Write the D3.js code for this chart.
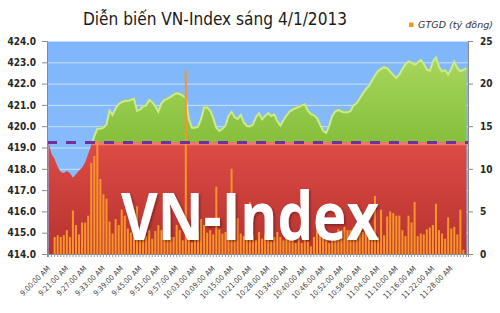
<!DOCTYPE html>
<html><head><meta charset="utf-8">
<script src="https://cdn.jsdelivr.net/npm/d3@7"></script>
<style>body{margin:0;background:#fff}svg{display:block}</style>
</head><body>
<svg id="c" width="500" height="313"></svg>
<script>
// ---- data ----
const times = ("9:00 9:16 9:17 9:18 9:19 9:20 9:21 9:22 9:23 9:24 9:25 9:26 9:27 9:28 9:29 9:30 9:31 9:32 9:33 9:34 9:35 9:36 9:37 9:38 9:39 9:40 9:41 9:42 9:43 9:44 9:45 9:46 9:47 9:48 9:49 9:50 9:51 9:52 9:53 9:54 9:55 9:56 9:57 9:58 9:59 " +
 "10:00 10:01 10:02 10:03 10:04 10:05 10:06 10:07 10:08 10:09 10:10 10:11 10:12 10:13 10:14 10:15 10:16 10:17 10:18 10:19 10:20 10:21 " +
 "10:23 10:24 10:25 10:26 10:27 10:28 10:29 10:30 10:31 10:32 10:33 10:34 10:35 10:36 10:37 10:38 10:39 10:40 10:41 10:42 10:43 10:44 10:45 10:46 10:47 10:48 10:49 10:50 10:51 10:52 10:53 10:54 10:55 10:56 10:57 10:58 10:59 " +
 "11:00 11:01 11:02 11:03 11:04 11:05 11:06 11:07 11:08 11:09 11:10 11:11 11:12 11:13 11:14 11:15 11:16 11:17 11:18 11:19 11:20 11:21 11:22 11:23 11:24 11:25 11:26 11:27 11:28 11:29 11:30 11:31 11:32 11:33").split(" ");

const vnIndex = [
 419.24,418.7,418.45,418.1,417.85,417.8,417.9,417.8,417.58,417.75,
 417.92,418.05,418.3,418.7,419.1,419.6,419.95,419.95,420.0,420.15,
 420.8,420.6,420.9,421.1,421.2,421.25,421.26,421.3,421.36,420.8,
 420.85,421.0,421.05,421.3,421.2,421.0,420.75,421.15,421.3,421.36,
 421.45,421.55,421.62,421.58,421.5,421.4,420.4,420.0,420.0,420.05,
 420.4,420.95,420.95,420.8,420.45,420.0,419.85,419.95,420.1,420.55,
 420.75,420.5,420.4,420.6,420.25,420.08,420.06,420.15,420.5,420.68,
 420.4,420.55,420.68,420.55,420.62,420.3,420.1,420.35,420.57,420.75,
 420.85,420.92,420.97,421.05,421.1,420.8,420.65,420.58,420.45,420.15,
 419.85,419.75,420.1,420.55,420.76,420.84,420.76,420.72,420.72,420.78,
 421.05,421.15,421.37,421.6,421.8,421.96,422.2,422.45,422.65,422.76,
 422.83,422.8,422.63,422.48,422.33,422.5,422.75,422.98,423.1,423.05,
 422.95,423.05,423.18,423.0,422.72,422.67,423.1,423.3,422.85,422.64,
 422.7,422.5,422.75,423.1,422.8,422.65,422.72,422.78];

const volume = [
 0,0,2.0,2.2,2.0,2.2,2.8,2.0,5.1,3.4,
 2.3,3.7,3.7,4.5,10.7,11.5,13.4,8.8,7.0,6.5,
 3.8,2.4,4.1,3.4,5.2,4.5,3.0,2.5,3.6,5.6,
 3.1,2.4,2.1,2.8,1.8,2.7,3.4,2.8,1.8,2.1,
 2.0,2.0,3.4,2.8,1.6,21.5,2.0,1.4,2.1,2.8,
 4.1,3.4,2.5,2.8,2.3,7.9,2.9,2.4,2.6,2.3,
 10.0,1.6,4.2,2.4,2.1,2.4,6.1,2.2,1.6,2.6,
 1.8,2.3,3.0,1.5,2.0,2.6,2.0,1.6,2.6,2.0,
 2.0,1.3,2.1,1.3,1.9,1.5,0.9,2.0,2.8,2.4,
 2.3,1.6,1.3,2.0,2.0,2.9,2.0,3.2,2.8,2.8,
 3.1,2.5,3.0,2.6,2.8,2.2,2.6,6.8,2.0,5.2,
 2.2,4.4,5.0,4.8,4.5,4.5,2.8,2.1,4.5,3.7,
 6.1,2.1,2.4,2.3,2.9,3.1,3.4,5.9,2.8,2.4,
 1.8,4.3,3.0,3.2,2.3,5.2,0.5,0];

const refLevel = 419.24;
const leftTicks = [414,415,416,417,418,419,420,421,422,423,424];
const rightTicks = [0,5,10,15,20,25];
const titleText = "Diễn biến VN-Index sáng 4/1/2013";
const legendText = "GTGD (tỷ đồng)";
const watermark = "VN-Index";

// ---- layout ----
const L = 47, R = 468, T = 41, B = 254;
const svg = d3.select("#c");
const idx = d3.range(times.length);
const x = d3.scaleBand().domain(idx).range([L, R]).padding(0);
const cx = i => x(i) + x.bandwidth() / 2;
const yL = d3.scaleLinear().domain([414, 424]).range([B, T]);
const yR = d3.scaleLinear().domain([0, 25]).range([B, T]);
const yRef = yL(refLevel);

const defs = svg.append("defs");
const gGreen = defs.append("linearGradient").attr("id","gGreen").attr("x1",0).attr("y1",0).attr("x2",0).attr("y2",1);
gGreen.append("stop").attr("offset","0").attr("stop-color","#aedb62");
gGreen.append("stop").attr("offset","1").attr("stop-color","#86bf3c");
const gRed = defs.append("linearGradient").attr("id","gRed").attr("x1",0).attr("y1",0).attr("x2",0).attr("y2",1);
gRed.append("stop").attr("offset","0").attr("stop-color","#de4b46");
gRed.append("stop").attr("offset","1").attr("stop-color","#b5322e");
const gBlue = defs.append("linearGradient").attr("id","gBlue").attr("x1",0).attr("y1",0).attr("x2",0).attr("y2",1);
gBlue.append("stop").attr("offset","0").attr("stop-color","#7fb6fb");
gBlue.append("stop").attr("offset","1").attr("stop-color","#8cc0fc");

const area = d3.area().x(i => cx(i)).y0(B).y1(i => yL(vnIndex[i]));
defs.append("clipPath").attr("id","under").append("path").attr("d", area(idx));
defs.append("clipPath").attr("id","above").append("rect").attr("x",L).attr("y",T-5).attr("width",R-L).attr("height",yRef-T+5);
const sh = defs.append("filter").attr("id","sh").attr("x","-10%").attr("y","-10%").attr("width","120%").attr("height","130%");
sh.append("feDropShadow").attr("dx",1.5).attr("dy",1.5).attr("stdDeviation",1.2).attr("flood-color","#000").attr("flood-opacity",0.35);

// plot background
svg.append("rect").attr("x",L).attr("y",T).attr("width",R-L).attr("height",B-T).attr("fill","url(#gBlue)");
// gridlines
svg.append("g").selectAll("line").data(leftTicks.slice(1)).join("line")
  .attr("x1",L).attr("x2",R).attr("y1",d=>yL(d)+0.5).attr("y2",d=>yL(d)+0.5)
  .attr("stroke","#ffffff").attr("stroke-opacity",0.55).attr("stroke-width",1);

// index area split at reference
const gA = svg.append("g").attr("clip-path","url(#under)");
gA.append("rect").attr("x",L).attr("y",T).attr("width",R-L).attr("height",yRef-T).attr("fill","url(#gGreen)");
gA.append("rect").attr("x",L).attr("y",yRef).attr("width",R-L).attr("height",B-yRef).attr("fill","url(#gRed)");
gA.append("rect").attr("x",L).attr("y",yRef).attr("width",R-L).attr("height",3).attr("fill","#f07a70");
// top highlight of green
svg.append("path").attr("clip-path","url(#above)")
  .attr("d", d3.line().x(i=>cx(i)).y(i=>yL(vnIndex[i])+1.5)(idx))
  .attr("fill","none").attr("stroke","#cdeb8e").attr("stroke-width",2);

// volume bars
const bw = x.bandwidth() * 0.66;
svg.append("g").selectAll("rect").data(idx.filter(i=>volume[i]>0)).join("rect")
  .attr("x", i => cx(i) - bw/2).attr("width", bw)
  .attr("y", i => yR(volume[i])).attr("height", i => B - yR(volume[i]))
  .attr("fill", "#f7952a");

// reference dashed line
svg.append("line").attr("x1",L).attr("x2",R).attr("y1",yRef).attr("y2",yRef)
  .attr("stroke","#7030a0").attr("stroke-width",3).attr("stroke-dasharray","10,9");

// axes
const axFont = "'DejaVu Sans Condensed','DejaVu Sans',sans-serif";
const axL = svg.append("g").attr("transform",`translate(${L},0)`)
  .call(d3.axisLeft(yL).tickValues(leftTicks).tickFormat(d3.format(".1f")).tickSize(5).tickPadding(6));
const axR = svg.append("g").attr("transform",`translate(${R},0)`)
  .call(d3.axisRight(yR).tickValues(rightTicks).tickSize(5).tickPadding(7));
[axL, axR].forEach(a => {
  a.select(".domain").attr("stroke","#8a8a8a");
  a.selectAll(".tick line").attr("stroke","#8a8a8a");
  a.selectAll("text").attr("font-family",axFont).attr("font-stretch","condensed")
    .attr("font-weight","bold").attr("font-size",10).attr("fill","#262626");
});
const axB = svg.append("g").attr("transform",`translate(0,${B})`)
  .call(d3.axisBottom(x).tickValues(idx).tickSize(3).tickFormat(""));
axB.select(".domain").attr("stroke","#8a8a8a");
axB.selectAll(".tick line").attr("stroke","#9a9a9a");
svg.append("g").selectAll("text").data(idx.filter(i => i % 6 === 0)).join("text")
  .attr("transform", i => `translate(${cx(i)+2},${B+15}) rotate(-45)`)
  .attr("text-anchor","end")
  .attr("font-family",axFont).attr("font-stretch","condensed").attr("font-size",7.5).attr("fill","#404040")
  .text(i => times[i] + ":00 AM");

// watermark
svg.append("text").attr("x",121).attr("y",240)
  .attr("font-family","'Open Sans',sans-serif").attr("font-weight",700).attr("font-size",67)
  .attr("textLength",258).attr("lengthAdjust","spacingAndGlyphs")
  .attr("fill","#ffffff").attr("filter","url(#sh)").text(watermark);

// title
svg.append("text").attr("x",215).attr("y",25).attr("text-anchor","middle")
  .attr("font-family",axFont).attr("font-stretch","condensed").attr("font-size",17).attr("fill","#1a1a1a")
  .attr("textLength",264).attr("lengthAdjust","spacingAndGlyphs").text(titleText);

// legend
svg.append("rect").attr("x",409).attr("y",22.5).attr("width",4.5).attr("height",4.5).attr("fill","#f7952a");
svg.append("text").attr("x",418).attr("y",28).attr("font-family",axFont).attr("font-stretch","condensed")
  .attr("font-style","italic").attr("font-size",8.5).attr("fill","#333")
  .attr("textLength",75).attr("lengthAdjust","spacingAndGlyphs").text(legendText);
</script>
</body></html>
